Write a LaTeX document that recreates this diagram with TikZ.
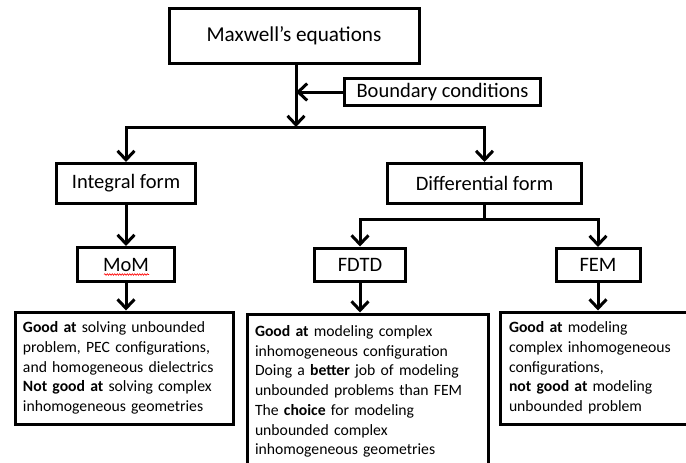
\documentclass[tikz,border=0pt]{standalone}
\usepackage{fontspec}
\setmainfont{Carlito}
\usetikzlibrary{arrows.meta,decorations.pathmorphing}
\tikzset{
  boxstyle/.style={draw=black, line width=3pt, fill=white, inner sep=0pt, font=\fontsize{20.5}{24}\selectfont},
  descstyle/.style={draw=black, line width=3pt, fill=white, inner xsep=8pt, inner ysep=0pt, anchor=north west, align=left, font=\fontsize{15.7}{19.7}\selectfont},
  conn/.style={line width=3pt, -{Straight Barb[length=9pt,width=17pt]}},
  plain/.style={line width=3pt},
}
\begin{document}
\begin{tikzpicture}[x=1pt,y=-1pt]
\useasboundingbox (0,0) rectangle (686,463);
\fill[white] (0,0) rectangle (686,463);
% top nodes
\node[boxstyle, minimum width=250pt, minimum height=55pt, font=\fontsize{21.2}{25}\selectfont] (max) at (294,36) {Maxwell’s equations};
\node[boxstyle, minimum width=196pt, minimum height=27pt] (bc) at (442.5,92) {Boundary conditions};
\node[boxstyle, minimum width=139pt, minimum height=40pt] (int) at (126,183.5) {Integral form};
\node[boxstyle, minimum width=194pt, minimum height=40pt] (diff) at (484.5,183.5) {Differential form};
\node[boxstyle, minimum width=97pt, minimum height=34pt] (mom) at (126,264.5) {MoM};
\node[boxstyle, minimum width=91pt, minimum height=33pt] (fdtd) at (360,264.5) {FDTD};
\node[boxstyle, minimum width=84pt, minimum height=33pt] (fem) at (598,265) {FEM};
% description boxes
\node[descstyle, text width=202pt, minimum height=112pt] (momd) at (13.5,310.5)
  {\textbf{Good at} solving unbounded\\ problem, PEC configurations,\\ and homogeneous dielectrics\\ \textbf{Not good at} solving complex\\ inhomogeneous geometries};
\node[descstyle, text width=225pt, minimum height=155pt] (fdtdd) at (245.5,312.5)
  {\textbf{Good at} modeling complex\\ inhomogeneous configuration\\ Doing a \textbf{better} job of modeling\\ unbounded problems than FEM\\ The \textbf{choice} for modeling\\ unbounded complex\\ inhomogeneous geometries};
\node[descstyle, inner xsep=9pt, text width=177pt, minimum height=112pt] (femd) at (498.5,310.5)
  {\textbf{Good at} modeling\\ complex inhomogeneous\\ configurations,\\ \textbf{not good at} modeling\\ unbounded problem};
% junctions
\coordinate (j1) at (296,127);
\coordinate (j2) at (484.5,219);
% connectors
\draw[conn] (j1 |- max.south) -- (j1);
\draw[conn] (bc.west) -- (bc.west -| j1);
\draw[conn] (j1) -| (int.north);
\draw[conn] (j1) -| (diff.north);
\draw[plain] (diff.south) -- (j2);
\draw[conn] (j2) -| (fdtd.north);
\draw[conn] (j2) -| (fem.north);
\draw[conn] (int.south) -- (mom.north);
\draw[conn] (mom.south) -- (mom.south |- momd.north);
\draw[conn] (fdtd.south) -- (fdtd.south |- fdtdd.north);
\draw[conn] (fem.south) -- (fem.south |- femd.north);
% spell-check squiggle under MoM
\draw[red, line width=0.6pt, decorate, decoration={snake, amplitude=0.8pt, segment length=2.5pt}] (104,274.5) -- (149,274.5);
\end{tikzpicture}
\end{document}
